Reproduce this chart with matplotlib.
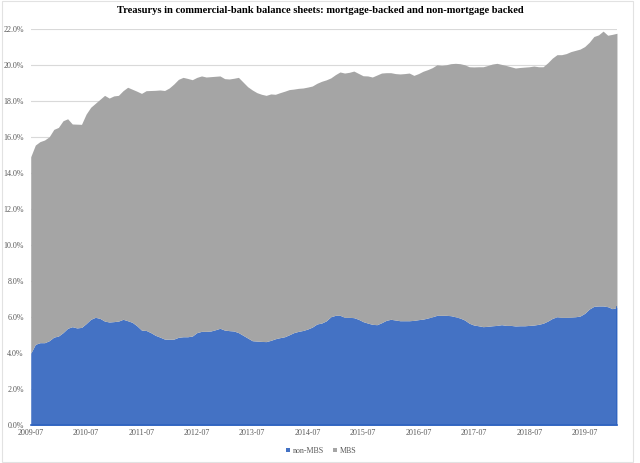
import numpy as np
import matplotlib
matplotlib.use("Agg")
import matplotlib.pyplot as plt
from matplotlib.patches import Rectangle

# monthly, 2009-07 .. 2020-02, share of bank balance sheet (%)
total_share = [14.92, 15.57, 15.76, 15.85, 16.03, 16.44, 16.55, 16.92, 17.03, 16.74,
               16.73, 16.72, 17.29, 17.67, 17.89, 18.11, 18.33, 18.18, 18.30, 18.33,
               18.59, 18.78, 18.67, 18.56, 18.44, 18.59, 18.60, 18.61, 18.63, 18.60,
               18.74, 18.96, 19.22, 19.33, 19.27, 19.20, 19.33, 19.41, 19.35, 19.37,
               19.39, 19.41, 19.26, 19.24, 19.28, 19.33, 19.07, 18.81, 18.63, 18.48,
               18.39, 18.33, 18.41, 18.39, 18.48, 18.56, 18.65, 18.68, 18.72, 18.74,
               18.79, 18.85, 19.00, 19.11, 19.19, 19.30, 19.48, 19.63, 19.57, 19.61,
               19.68, 19.55, 19.42, 19.41, 19.35, 19.46, 19.57, 19.59, 19.59, 19.54,
               19.52, 19.54, 19.57, 19.44, 19.54, 19.67, 19.76, 19.87, 20.03, 20.00,
               20.03, 20.09, 20.11, 20.09, 20.03, 19.92, 19.91, 19.92, 19.92, 19.99,
               20.07, 20.11, 20.05, 19.99, 19.92, 19.85, 19.88, 19.90, 19.92, 19.96,
               19.92, 19.92, 20.14, 20.40, 20.59, 20.59, 20.65, 20.76, 20.83, 20.90,
               21.04, 21.28, 21.60, 21.69, 21.90, 21.67, 21.72, 21.78]

non_mbs_share = [4.00, 4.50, 4.59, 4.59, 4.70, 4.90, 4.96, 5.15, 5.39, 5.48,
                 5.41, 5.44, 5.65, 5.89, 6.00, 5.94, 5.79, 5.74, 5.76, 5.79,
                 5.89, 5.81, 5.72, 5.53, 5.29, 5.27, 5.15, 5.00, 4.90, 4.79,
                 4.78, 4.79, 4.89, 4.92, 4.92, 4.96, 5.15, 5.22, 5.22, 5.24,
                 5.31, 5.39, 5.29, 5.26, 5.24, 5.15, 5.00, 4.85, 4.70, 4.68,
                 4.66, 4.65, 4.72, 4.81, 4.87, 4.92, 5.03, 5.15, 5.22, 5.27,
                 5.35, 5.46, 5.63, 5.68, 5.80, 6.03, 6.11, 6.11, 6.00, 6.00,
                 5.98, 5.89, 5.76, 5.68, 5.61, 5.59, 5.70, 5.83, 5.89, 5.85,
                 5.81, 5.81, 5.81, 5.83, 5.87, 5.90, 5.96, 6.03, 6.11, 6.11,
                 6.11, 6.09, 6.03, 5.96, 5.85, 5.67, 5.57, 5.53, 5.48, 5.50,
                 5.53, 5.55, 5.59, 5.55, 5.55, 5.52, 5.53, 5.53, 5.55, 5.57,
                 5.61, 5.67, 5.79, 5.94, 6.03, 6.00, 6.00, 6.01, 6.03, 6.07,
                 6.22, 6.46, 6.61, 6.63, 6.63, 6.59, 6.48, 6.55]

year_labels = ['2009-07', '2010-07', '2011-07', '2012-07', '2013-07', '2014-07',
               '2015-07', '2016-07', '2017-07', '2018-07', '2019-07']

blue = '#4472C4'
grey = '#A5A5A5'
txt = '#595959'
serif = ['Liberation Serif', 'DejaVu Serif']

fig = plt.figure(figsize=(6.4, 4.63), dpi=100)
ax = fig.add_axes([0.048, 0.0814, 0.916, 0.8553])

x = np.arange(len(total_share))
ax.fill_between(x, 0, non_mbs_share, color=blue, lw=0, label='non-MBS', zorder=2)
ax.fill_between(x, non_mbs_share, total_share, color=grey, lw=0, label='MBS', zorder=2)

ax.set_xlim(0, len(x) - 1)
ax.set_ylim(0, 22)
ax.set_yticks(np.arange(0, 22.1, 2))
ax.set_yticklabels([f'{v:.1f}%' for v in np.arange(0, 22.1, 2)])
ax.set_xticks(np.arange(0, len(x), 12))
ax.set_xticklabels(year_labels)
ax.grid(axis='y', color='#D9D9D9', lw=0.8, zorder=0)
ax.set_axisbelow(True)

for s in ['top', 'right', 'left']:
    ax.spines[s].set_visible(False)
ax.spines['bottom'].set_color('#2E63C0')
ax.spines['bottom'].set_linewidth(1.2)
ax.axvline(len(x) - 1, color='#2E63C0', lw=1.2, ymax=non_mbs_share[-1] / 22, zorder=3)

ax.tick_params(axis='both', length=0, labelsize=5.8, colors=txt)
ax.tick_params(axis='y', pad=5)
ax.tick_params(axis='x', pad=3)
for lab in ax.get_xticklabels() + ax.get_yticklabels():
    lab.set_family(serif)

fig.text(0.5, 0.978, 'Treasurys in commercial-bank balance sheets: mortgage-backed and non-mortgage backed',
         ha='center', va='center', fontsize=7.6, fontweight='bold', family=serif, color='#000000')

leg = fig.legend(loc='center', bbox_to_anchor=(0.502, 0.026), ncol=2, frameon=False,
                 prop={'family': serif, 'size': 5.8}, handlelength=0.5, handleheight=0.5,
                 handletextpad=0.3, columnspacing=1.2)
for t in leg.get_texts():
    t.set_color(txt)

fig.patches.append(Rectangle((0.003, 0.002), 0.986, 0.995, transform=fig.transFigure,
                             fill=False, edgecolor='#E2E2E2', lw=0.8))

fig.savefig('out.png', dpi=100)
